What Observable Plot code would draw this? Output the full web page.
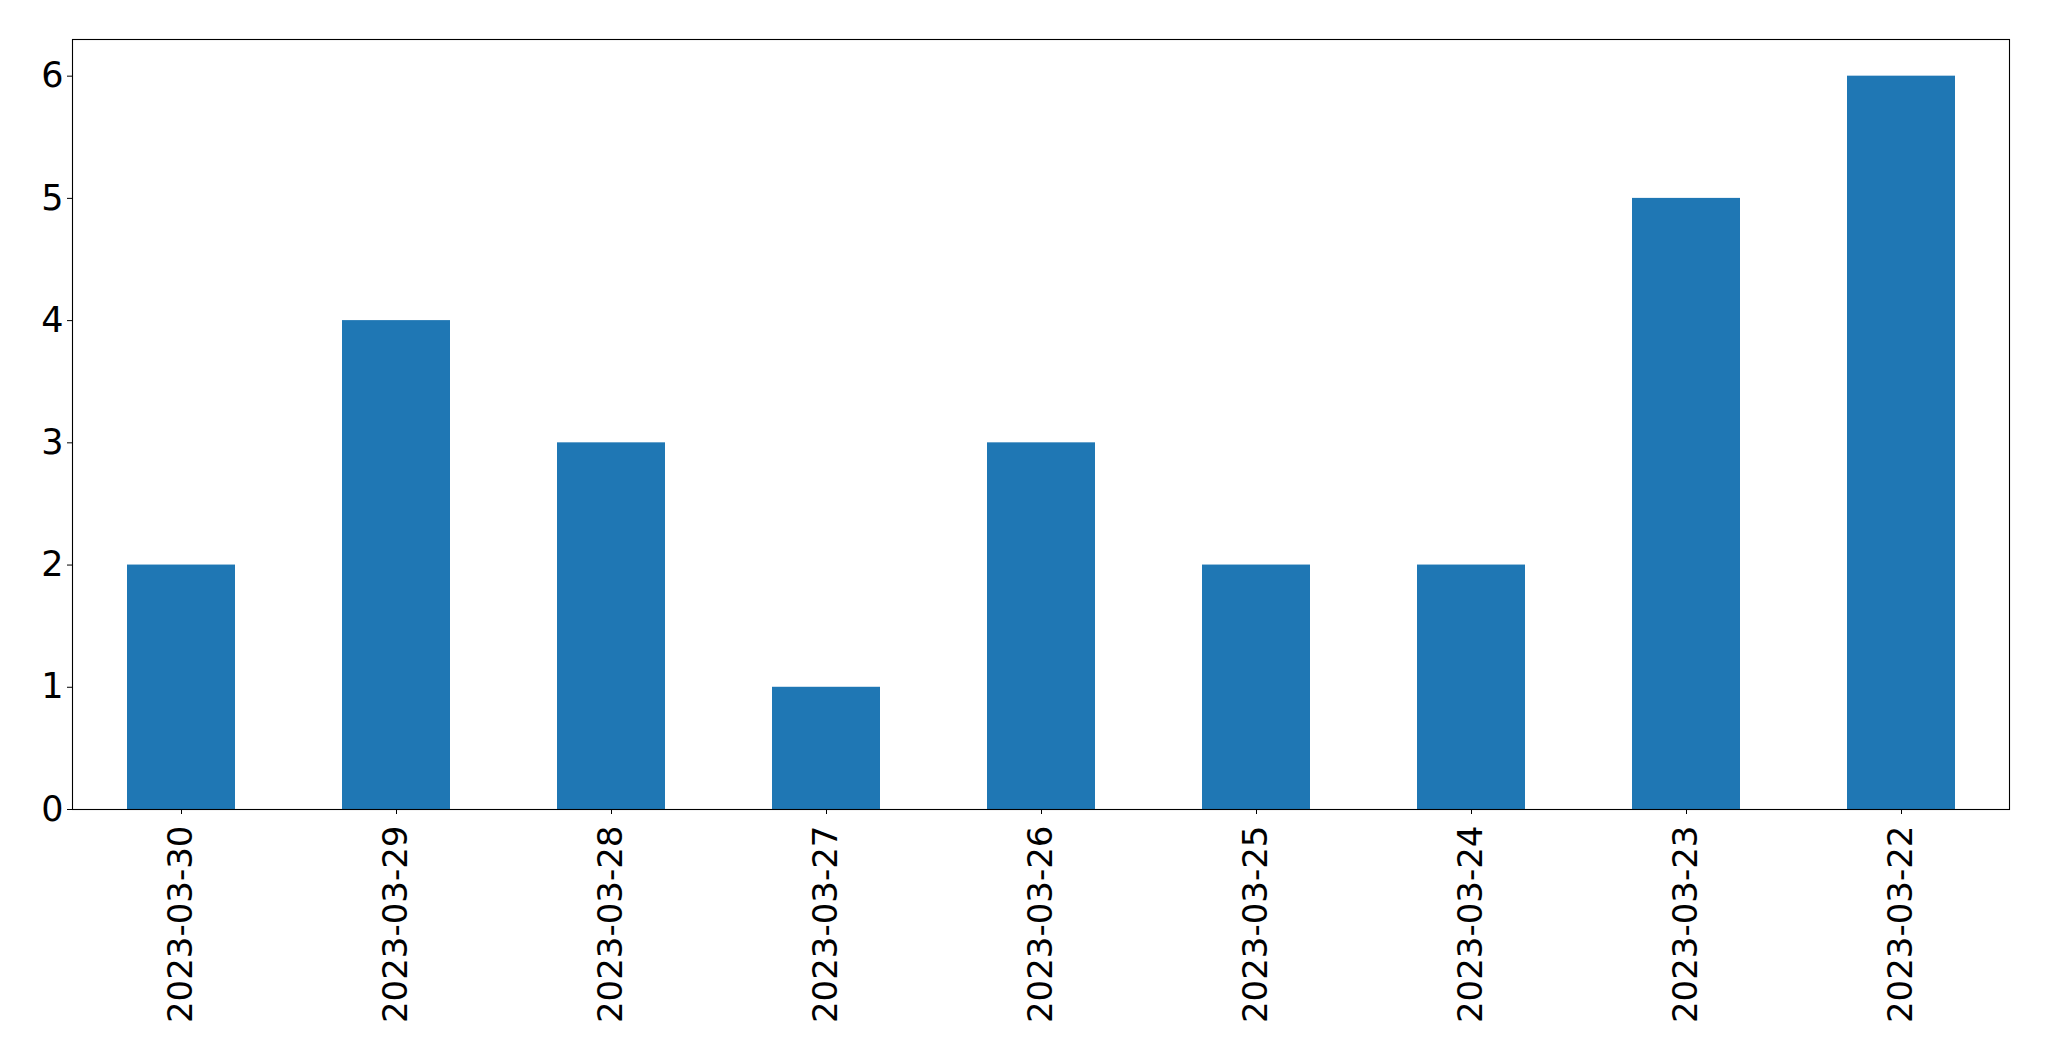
<!DOCTYPE html>
<html>
<head>
<meta charset="utf-8">
<script src="https://cdn.jsdelivr.net/npm/d3@7"></script>
<script src="https://cdn.jsdelivr.net/npm/@observablehq/plot@0.6"></script>
<style>
  html, body { margin: 0; padding: 0; background: #fff; }
  #chart svg { display: block; }
</style>
</head>
<body>
<div id="chart"></div>
<script>
const dates = ["2023-03-30", "2023-03-29", "2023-03-28", "2023-03-27", "2023-03-26", "2023-03-25", "2023-03-24", "2023-03-23", "2023-03-22"];
const counts = [2, 4, 3, 1, 3, 2, 2, 5, 6];
const yTicks = [0, 1, 2, 3, 4, 5, 6];

const data = dates.map((d, i) => ({date: d, count: counts[i]}));

const chart = Plot.plot({
  width: 2049,
  height: 1061,
  marginLeft: 72,
  marginRight: 40,
  marginTop: 39,
  marginBottom: 252,
  style: {fontFamily: "DejaVu Sans", background: "#fff", color: "#000"},
  x: {type: "band", domain: dates, paddingInner: 0.5, paddingOuter: 0.25, label: null},
  y: {domain: [0, 6.3], label: null},
  marks: [
    Plot.barY(data, {x: "date", y: "count", fill: "#1f77b4", inset: 0}),
    Plot.frame({stroke: "#000", strokeWidth: 1.1}),
    Plot.axisY({ticks: yTicks, tickSize: 5, tickPadding: 4, fontSize: 35, label: null, tickFormat: d => String(d)}),
    Plot.axisX({tickSize: 5, tickPadding: 11, tickRotate: -90, fontSize: 34, label: null})
  ]
});
document.getElementById("chart").appendChild(chart);
</script>
</body>
</html>
